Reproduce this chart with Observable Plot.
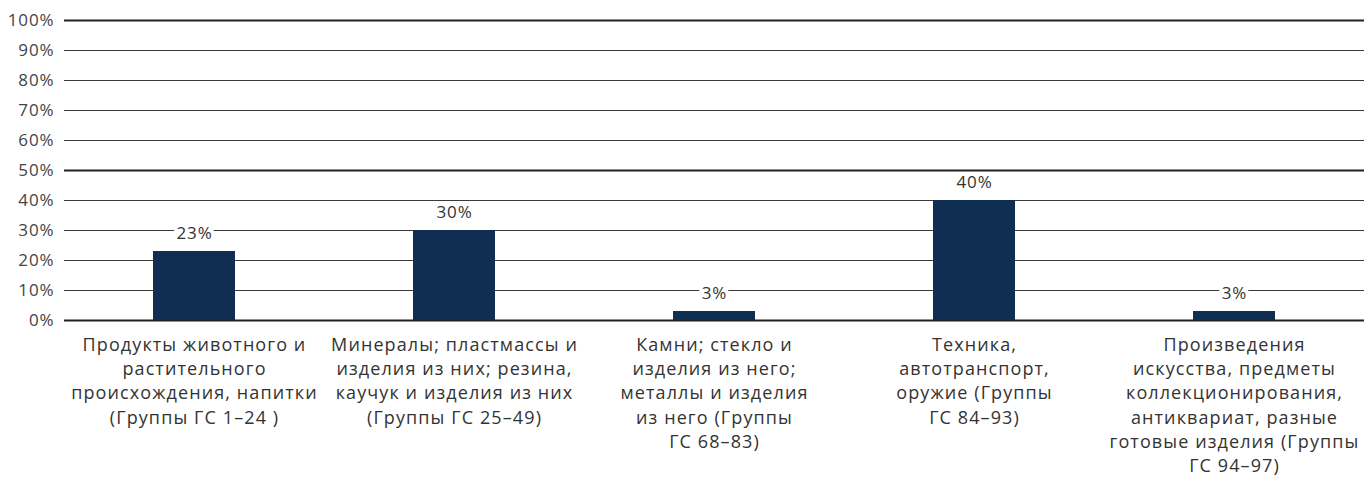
<!DOCTYPE html>
<html><head><meta charset="utf-8">
<script src="https://cdn.jsdelivr.net/npm/d3@7"></script>
<script src="https://cdn.jsdelivr.net/npm/@observablehq/plot@0.6"></script>
<style>
html,body{margin:0;padding:0;background:#fff;}
#chart{width:1364px;height:480px;}
#chart svg text{letter-spacing:0.9px;}
#chart svg g[aria-label="x-axis tick label"] text{letter-spacing:1.1px;}
</style>
</head><body><div id="chart"></div>
<script>
const categories = [
  "Продукты животного и\nрастительного\nпроисхождения, напитки\n(Группы ГС 1–24 )",
  "Минералы; пластмассы и\nизделия из них; резина,\nкаучук и изделия из них\n(Группы ГС 25–49)",
  "Камни; стекло и\nизделия из него;\nметаллы и изделия\nиз него (Группы\nГС 68–83)",
  "Техника,\nавтотранспорт,\nоружие (Группы\nГС 84–93)",
  "Произведения\nискусства, предметы\nколлекционирования,\nантиквариат, разные\nготовые изделия (Группы\nГС 94–97)"
];
const values = [23, 30, 3, 40, 3];
const yTicks = [0, 10, 20, 30, 40, 50, 60, 70, 80, 90, 100];
const majorTicks = [0, 50, 100];

const data = categories.map((c, i) => ({cat: c, value: values[i]}));
const minor = yTicks.filter(t => !majorTicks.includes(t));

const chart = Plot.plot({
  width: 1364,
  height: 480,
  marginTop: 20,
  marginBottom: 160,
  marginLeft: 64,
  marginRight: 0,
  style: {fontFamily: "'Open Sans', sans-serif", fontSize: "16px", color: "#333", background: "#fff"},
  x: {domain: categories, paddingInner: 0.685, paddingOuter: 0.3425, label: null},
  y: {domain: [0, 100], label: null},
  marks: [
    Plot.ruleY(minor, {stroke: "#3a3a3a", strokeWidth: 1}),
    Plot.ruleY(majorTicks, {stroke: "#222", strokeWidth: 2}),
    Plot.barY(data, {x: "cat", y: "value", fill: "#102e51"}),
    Plot.text(data, {x: "cat", y: "value", text: d => d.value + "%", dy: -18, fill: "#333", stroke: "white", strokeWidth: 8, fontSize: 17}),
    Plot.axisY({ticks: yTicks, tickSize: 0, tickPadding: 10, tickFormat: d => d + "%", fontSize: 17, fill: "#444"}),
    Plot.axisX({tickSize: 0, tickPadding: 13, fontSize: 18, lineHeight: 1.35, fill: "#333", textAnchor: "middle"})
  ]
});
document.getElementById("chart").appendChild(chart);
</script>
</body></html>
